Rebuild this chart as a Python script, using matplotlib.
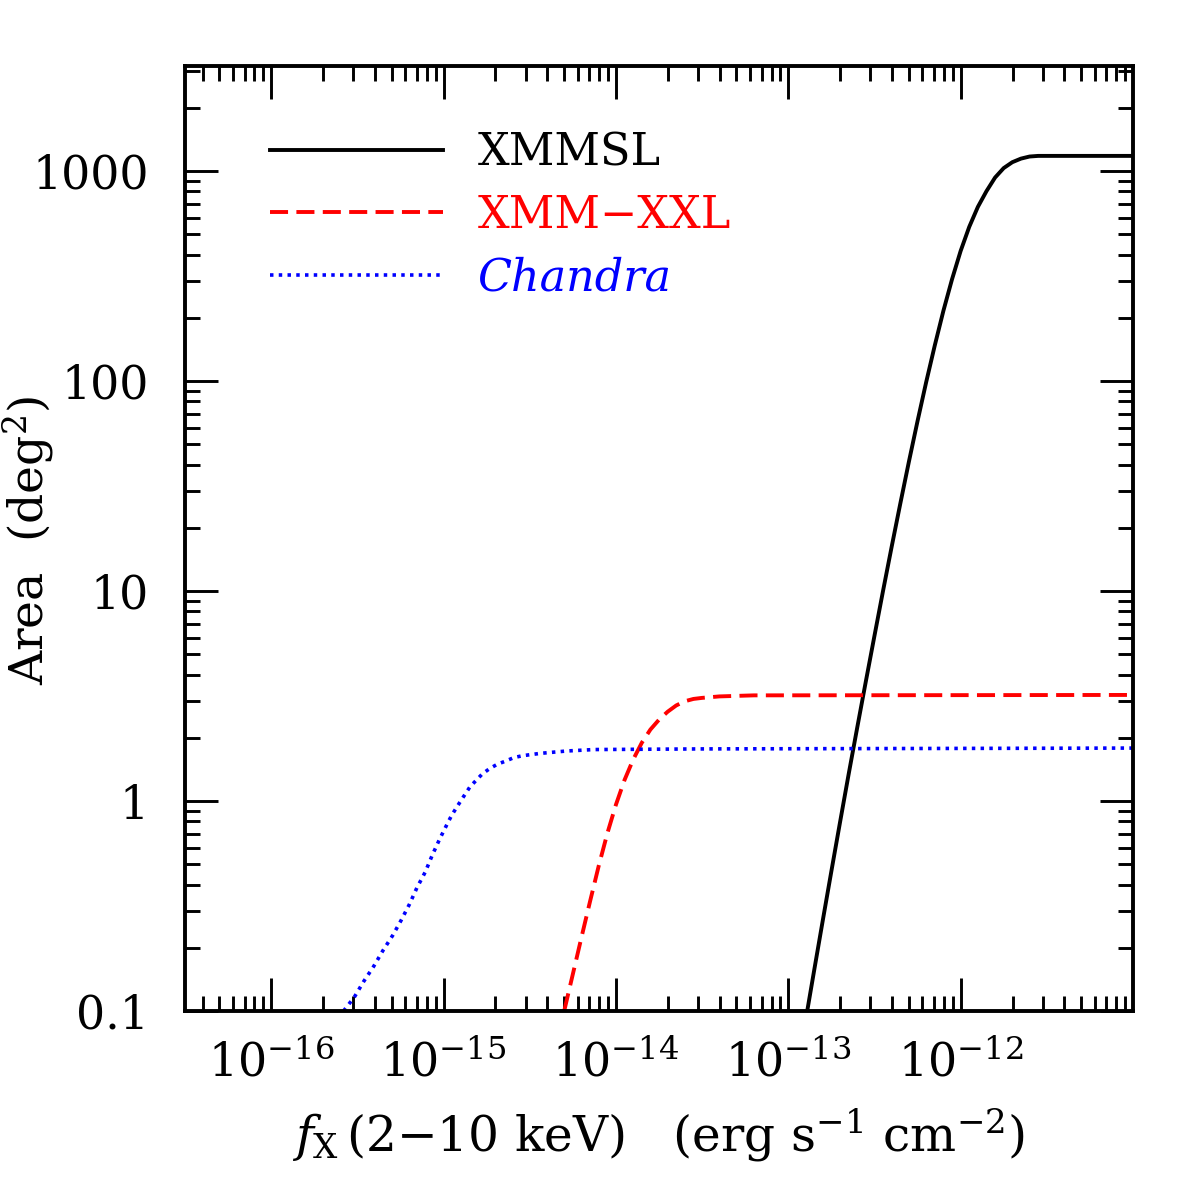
import numpy as np
import matplotlib
matplotlib.use("Agg")
import matplotlib.pyplot as plt
from matplotlib.ticker import LogLocator, NullFormatter, FixedLocator

plt.rcParams['font.family'] = ['DejaVu Serif']
plt.rcParams['mathtext.fontset'] = 'dejavuserif'
plt.rcParams['lines.scale_dashes'] = False

# log10 flux / log10 area
xmmsl_logf = [-12.89, -12.85, -12.80, -12.75, -12.70, -12.65, -12.60, -12.55, -12.50,
              -12.45, -12.40, -12.35, -12.30, -12.25, -12.20, -12.15, -12.10, -12.05,
              -12.00, -11.95, -11.90, -11.85, -11.80, -11.75, -11.70, -11.65, -11.60,
              -11.55, -11.00]
xmmsl_loga = [-1.000, -0.808, -0.570, -0.335, -0.103, 0.126, 0.349, 0.569, 0.786,
              1.001, 1.211, 1.416, 1.616, 1.809, 1.994, 2.169, 2.334, 2.484,
              2.619, 2.734, 2.829, 2.904, 2.969, 3.014, 3.042, 3.059, 3.069,
              3.072, 3.072]

xxl_logf = [-14.30, -14.25, -14.20, -14.15, -14.10, -14.05, -14.00, -13.95, -13.90,
            -13.85, -13.80, -13.75, -13.70, -13.65, -13.60, -13.55, -13.50, -13.40,
            -13.20, -11.00]
xxl_loga = [-1.000, -0.825, -0.650, -0.478, -0.310, -0.155, -0.018, 0.100, 0.197,
            0.277, 0.340, 0.387, 0.425, 0.455, 0.475, 0.486, 0.491, 0.498,
            0.503, 0.505]

chandra_logf = [-15.58, -15.517, -15.463, -15.405, -15.353, -15.295, -15.246, -15.198, -15.155,
                -15.106, -15.066, -15.023, -14.975, -14.952, -14.903, -14.847, -14.810,
                -14.775, -14.733, -14.688, -14.640, -14.591, -14.539, -14.436, -14.287,
                -14.126, -13.50, -11.00]
chandra_loga = [-1.00, -0.933, -0.859, -0.787, -0.714, -0.640, -0.568, -0.492, -0.414,
                -0.338, -0.259, -0.182, -0.103, -0.067, -0.003, 0.067, 0.099,
                0.129, 0.154, 0.175, 0.190, 0.207, 0.216, 0.227, 0.238,
                0.245, 0.248, 0.252]

labels = ["XMMSL", "XMM\u2212XXL", "Chandra"]
xticks = [1e-16, 1e-15, 1e-14, 1e-13, 1e-12]
xticklabels = [r"$10^{-16}$", r"$10^{-15}$", r"$10^{-14}$", r"$10^{-13}$", r"$10^{-12}$"]
yticks = [0.1, 1, 10, 100, 1000]
yticklabels = ["0.1", "1", "10", "100", "1000"]

fig = plt.figure(figsize=(11.96, 11.96), dpi=100)
ax = fig.add_axes([0.1547, 0.1547, 0.7926, 0.7901])

ax.plot(10**np.array(xmmsl_logf), 10**np.array(xmmsl_loga), color='black', lw=2.8,
        label=labels[0], solid_joinstyle='round')
ax.plot(10**np.array(xxl_logf), 10**np.array(xxl_loga), color='red', lw=2.8,
        ls=(0, (13, 6)), label=labels[1])
ax.plot(10**np.array(chandra_logf), 10**np.array(chandra_loga), color='blue', lw=2.6,
        ls=(0, (2.5, 3.8)), label=labels[2])

ax.set_xscale('log')
ax.set_yscale('log')
ax.set_xlim(10**-16.5, 10**-11)
ax.set_ylim(0.1, 10**3.5)

ax.xaxis.set_major_locator(FixedLocator(xticks))
ax.set_xticklabels(xticklabels)
ax.yaxis.set_major_locator(FixedLocator(yticks))
ax.set_yticklabels(yticklabels)
ax.xaxis.set_minor_locator(LogLocator(base=10, subs=np.arange(2, 10), numticks=30))
ax.yaxis.set_minor_locator(LogLocator(base=10, subs=np.arange(2, 10), numticks=30))
ax.xaxis.set_minor_formatter(NullFormatter())
ax.yaxis.set_minor_formatter(NullFormatter())

ax.tick_params(which='both', direction='in', top=True, right=True, width=2.1, labelsize=33)
ax.tick_params(which='major', length=23.5)
ax.tick_params(which='minor', length=11)
ax.tick_params(axis='x', which='major', pad=22)
ax.tick_params(axis='y', which='major', pad=26)
for s in ax.spines.values():
    s.set_linewidth(2.8)

ax.set_xlabel(r"$f_{\rm X}\,$(2$-$10 keV)   (erg s$^{-1}$ cm$^{-2}$)", fontsize=35, labelpad=14)
ax.set_ylabel(r"Area  (deg$^2$)", fontsize=34)
ax.yaxis.set_label_coords(-0.135, 0.498)

leg = ax.legend(loc='upper left', bbox_to_anchor=(0.0705, 0.950), frameon=False, fontsize=32,
                handlelength=3.9, handletextpad=0.78, labelspacing=0.44, borderaxespad=0)
for t, c in zip(leg.get_texts(), ['black', 'red', 'blue']):
    t.set_color(c)
leg.get_texts()[2].set_style('italic')

fig.savefig("out.png", dpi=100)
